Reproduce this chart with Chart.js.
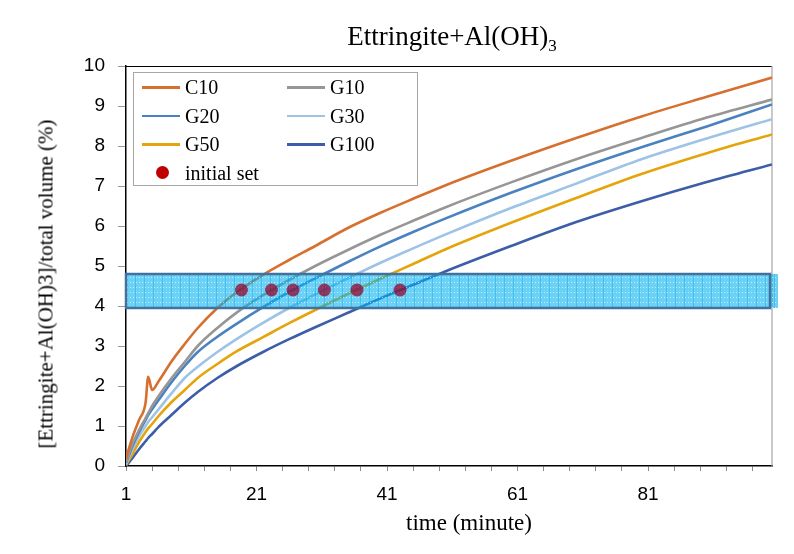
<!DOCTYPE html>
<html>
<head>
<meta charset="utf-8">
<script src="https://cdn.jsdelivr.net/npm/chart.js@4.4.1/dist/chart.umd.min.js"></script>
<style>
  html, body { margin: 0; padding: 0; background: #fff; }
  #wrap { position: relative; width: 794px; height: 554px; overflow: hidden; }
  canvas { position: absolute; left: 0; top: 0; }
  .ser { font-family: "Liberation Serif", "Times New Roman", serif; color: #000; position: absolute; white-space: nowrap; }
  #title { left: 0; width: 904px; top: 21px; text-align: center; font-size: 27px; }
  #title sub { font-size: 17px; vertical-align: -6px; line-height: 0; }
  #ytitle { left: 46px; top: 284px; font-size: 21px; transform: translate(-50%, -50%) rotate(-90deg); }
  #xtitle { left: 0; width: 938px; top: 510px; text-align: center; font-size: 23px; }
  #legend { position: absolute; left: 133px; top: 72px; width: 283px; height: 112px; border: 1.5px solid #a6a6a6; background: #fff; }
  .li { position: absolute; height: 28px; white-space: nowrap; font-family: "Liberation Serif", "Times New Roman", serif; font-size: 20px; line-height: 28px; }
  .li .sw { position: absolute; top: 13px; width: 38px; height: 2.5px; }
  .li .dot { position: absolute; top: 7px; width: 13px; height: 13px; border-radius: 50%; }
  .li .tx { position: absolute; top: 0; }
</style>
</head>
<body>
<div id="wrap">
  <canvas id="c" width="794" height="554"></canvas>
  <div id="title" class="ser">Ettringite+Al(OH)<sub>3</sub></div>
  <div id="ytitle" class="ser">[Ettringite+Al(OH)3]/total volume (%)</div>
  <div id="xtitle" class="ser">time (minute)</div>
  <div id="legend"></div>
</div>
<script>
// ---- data ----
const times = [1, 2, 3, 4, 4.4, 5, 6, 8, 10, 12, 15, 18, 22, 26, 30, 35, 40, 45, 50, 60, 70, 80, 90, 100];
const C10  = [0.19, 0.72, 1.15, 1.58, 2.23, 1.9, 2.12, 2.62, 3.05, 3.45, 3.95, 4.35, 4.78, 5.15, 5.5, 5.95, 6.33, 6.68, 7.02, 7.63, 8.2, 8.74, 9.23, 9.71];
const G10  = [0.1, 0.55, 0.9, 1.2, 1.32, 1.5, 1.75, 2.2, 2.6, 3.0, 3.45, 3.84, 4.27, 4.65, 5.0, 5.4, 5.78, 6.13, 6.47, 7.09, 7.67, 8.2, 8.71, 9.16];
const G20  = [0.08, 0.5, 0.85, 1.15, 1.27, 1.42, 1.65, 2.1, 2.5, 2.85, 3.23, 3.56, 3.97, 4.35, 4.69, 5.1, 5.49, 5.85, 6.19, 6.83, 7.42, 7.97, 8.49, 9.04];
const G30  = [0.05, 0.42, 0.75, 1.0, 1.1, 1.22, 1.42, 1.82, 2.2, 2.48, 2.85, 3.18, 3.58, 3.95, 4.29, 4.69, 5.08, 5.44, 5.79, 6.45, 7.06, 7.67, 8.19, 8.67];
const G50  = [0.03, 0.3, 0.6, 0.85, 0.94, 1.05, 1.25, 1.6, 1.9, 2.2, 2.55, 2.87, 3.22, 3.57, 3.9, 4.3, 4.68, 5.05, 5.42, 6.08, 6.7, 7.3, 7.82, 8.29];
const G100 = [0.0, 0.2, 0.42, 0.62, 0.7, 0.8, 0.98, 1.28, 1.58, 1.85, 2.2, 2.5, 2.85, 3.17, 3.47, 3.83, 4.19, 4.53, 4.87, 5.5, 6.1, 6.62, 7.1, 7.54];
const initialSetTimes  = [18.7, 23.3, 26.6, 31.4, 36.4, 43.0];
const initialSetValues = [4.4, 4.4, 4.4, 4.4, 4.4, 4.4];
const bandLow = 3.95, bandHigh = 4.8;
const bandTimes = [1, 100];

const seriesNames  = ['C10', 'G10', 'G20', 'G30', 'G50', 'G100'];
const seriesData   = [C10, G10, G20, G30, G50, G100];
const seriesColors = ['#d6702f', '#969696', '#4a82bf', '#9dc3e6', '#e4a40c', '#3c5ea8'];
const dotName = 'initial set', dotColor = '#c00000';

const xTickMarks  = [1, 5, 9, 13, 17, 21, 25, 29, 33, 37, 41, 45, 49, 53, 57, 61, 65, 69, 73, 77, 81, 85, 89, 93, 97];
const xTickLabels = [1, 21, 41, 61, 81];
const yTicks = [0, 1, 2, 3, 4, 5, 6, 7, 8, 9, 10];

// ---- legend (HTML) ----
(function buildLegend() {
  const lg = document.getElementById('legend');
  const items = seriesNames.map((n, i) => ({ name: n, color: seriesColors[i], dot: false }));
  items.push({ name: dotName, color: dotColor, dot: true });
  items.forEach((it, i) => {
    const col = it.dot ? 0 : i % 2, row = it.dot ? 3 : Math.floor(i / 2);
    const d = document.createElement('div');
    d.className = 'li';
    d.style.left = (col === 0 ? 6 : 151) + 'px';
    d.style.top = (row * 28.5) + 'px';
    const sw = document.createElement('div');
    if (it.dot) { sw.className = 'dot'; sw.style.left = '16px'; }
    else { sw.className = 'sw'; sw.style.left = '2px'; }
    sw.style.background = it.color;
    const tx = document.createElement('div');
    tx.className = 'tx'; tx.style.left = '45px'; tx.textContent = it.name;
    d.appendChild(sw); d.appendChild(tx); lg.appendChild(d);
  });
})();

// ---- band pattern ----
function makePattern(ctx) {
  const p = document.createElement('canvas');
  p.width = 9; p.height = 5;
  const g = p.getContext('2d');
  g.fillStyle = 'rgba(0,178,240,0.58)';
  g.fillRect(0, 0, 9, 5);
  g.fillStyle = 'rgba(255,255,255,0.6)';
  for (let i = 1; i < 9; i += 3) g.fillRect(i, 2, 1, 1);
  g.fillStyle = 'rgba(0,150,225,0.35)';
  g.fillRect(0, 0, 1, 5);
  return ctx.createPattern(p, 'repeat');
}

const framePlugin = {
  id: 'frame',
  beforeDatasetsDraw(chart) {
    const { ctx, chartArea: a } = chart;
    ctx.save();
    ctx.strokeStyle = '#000'; ctx.lineWidth = 1.2;
    ctx.beginPath(); ctx.moveTo(a.left, a.top + 0.5); ctx.lineTo(a.right, a.top + 0.5); ctx.stroke();
    ctx.strokeStyle = '#a6a6a6'; ctx.lineWidth = 1.2;
    ctx.beginPath(); ctx.moveTo(a.right, a.top); ctx.lineTo(a.right, a.bottom); ctx.stroke();
    ctx.restore();
  }
};

// band drawn over the lines, just before the "initial set" dots
const bandPlugin = {
  id: 'band',
  beforeDatasetDraw(chart, args) {
    if (args.meta.type !== 'scatter') return;
    const { ctx, scales: { x, y } } = chart;
    const x0 = x.getPixelForValue(bandTimes[0]), x1 = x.getPixelForValue(bandTimes[1]);
    const y0 = y.getPixelForValue(bandHigh), y1 = y.getPixelForValue(bandLow);
    ctx.save();
    ctx.fillStyle = makePattern(ctx);
    ctx.fillRect(x0, y0, x1 - x0 + 6, y1 - y0);
    ctx.strokeStyle = '#41719c'; ctx.lineWidth = 2.5;
    ctx.strokeRect(x0, y0, x1 - x0 - 2, y1 - y0);
    ctx.restore();
  }
};

const datasets = seriesNames.map((n, i) => ({
  type: 'line',
  label: n,
  data: times.map((t, k) => ({ x: t, y: seriesData[i][k] })),
  borderColor: seriesColors[i],
  backgroundColor: seriesColors[i],
  borderWidth: 2.6,
  pointRadius: 0,
  cubicInterpolationMode: 'monotone',
  fill: false,
  order: 1
}));
datasets.push({
  type: 'scatter',
  label: dotName,
  data: initialSetTimes.map((t, k) => ({ x: t, y: initialSetValues[k] })),
  backgroundColor: 'rgba(150,0,40,0.72)',
  borderColor: 'rgba(150,0,40,0)',
  borderWidth: 0,
  pointRadius: 6.5,
  showLine: false,
  order: 0
});

const sansFont = { family: '"Liberation Sans", Arial, sans-serif', size: 19 };

new Chart(document.getElementById('c'), {
  type: 'line',
  data: { datasets },
  options: {
    responsive: false,
    animation: false,
    events: [],
    layout: { padding: { left: 0, right: 22, top: 66, bottom: 0 } },
    plugins: { legend: { display: false }, title: { display: false }, tooltip: { enabled: false } },
    scales: {
      x: {
        type: 'linear', min: 1, max: 100,
        afterBuildTicks: s => { s.ticks = xTickMarks.map(v => ({ value: v })); },
        afterFit: s => { s.height = 88; },
        ticks: {
          autoSkip: false, maxRotation: 0, color: '#000', font: sansFont, padding: 12,
          callback: v => xTickLabels.includes(v) ? String(v) : ''
        },
        grid: { drawOnChartArea: false, drawTicks: true, tickLength: 5, tickColor: '#8c8c8c', tickWidth: 1 },
        border: { display: true, color: '#000', width: 1.5 }
      },
      y: {
        min: 0, max: 10,
        afterBuildTicks: s => { s.ticks = yTicks.map(v => ({ value: v })); },
        afterFit: s => { s.width = 126; },
        ticks: { color: '#000', font: sansFont, padding: 13 },
        grid: { drawOnChartArea: false, drawTicks: true, tickLength: 8, tickColor: '#9a9a9a', tickWidth: 1 },
        border: { display: true, color: '#000', width: 1.5 }
      }
    }
  },
  plugins: [framePlugin, bandPlugin]
});
</script>
</body>
</html>
